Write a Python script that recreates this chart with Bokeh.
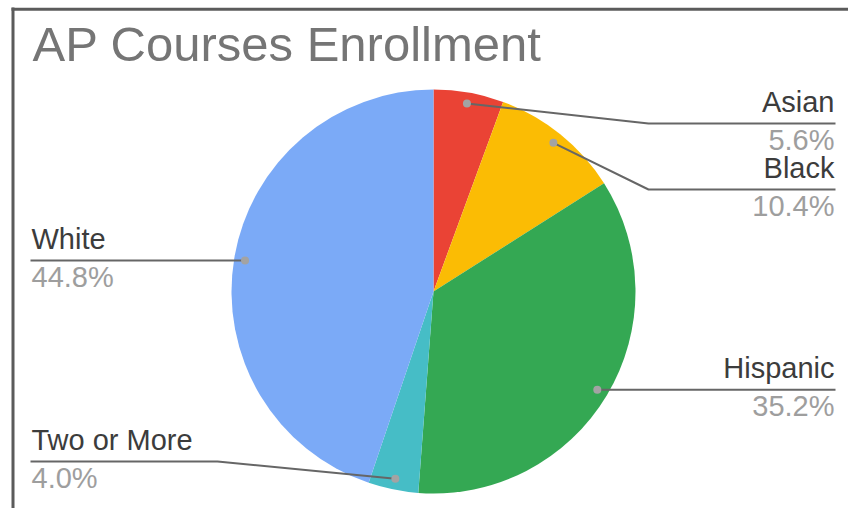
import math
from bokeh.plotting import figure
from bokeh.models import Range1d, ColumnDataSource
from bokeh.core.properties import value
from bokeh.embed import file_html
from bokeh.resources import INLINE

# ---- data ----
title = "AP Courses Enrollment"
categories = ["Asian", "Black", "Hispanic", "Two or More", "White"]
shares = [5.6, 10.4, 35.2, 4.0, 44.8]
pct_labels = ["5.6%", "10.4%", "35.2%", "4.0%", "44.8%"]
colors = ["#EA4335", "#FBBC04", "#34A853", "#46BDC6", "#7BAAF7"]

# ---- layout (page pixel coordinates) ----
PAGE_W, PAGE_H = 848, 508
def Y(yp):
    return PAGE_H - yp

CX, CY = 433, Y(291)
R = 202
R_DOT = 191
label_line_y = {"Asian": 123, "Black": 189, "Two or More": 461}  # page y; others follow dot
RIGHT_END, RIGHT_ELBOW = 835, 648
LEFT_END, LEFT_ELBOW = 30, 217
FONT = "Liberation Sans"
LBL_SIZE, TITLE_SIZE = 29, 49
BASE_FIX = 0.37  # compensate baseline placement, fraction of font size

p = figure(width=PAGE_W, height=PAGE_H, x_range=Range1d(0, PAGE_W), y_range=Range1d(0, PAGE_H),
           output_backend="svg", toolbar_location=None, min_border=0,
           x_axis_type=None, y_axis_type=None)
p.grid.visible = False
p.outline_line_color = None
p.background_fill_color = "white"
p.border_fill_color = "white"

# wedges
total = sum(shares)
starts, ends, mids = [], [], []
cum = 0.0
for s in shares:
    a0 = cum / total * 2 * math.pi
    a1 = (cum + s) / total * 2 * math.pi
    starts.append(math.pi / 2 - a0)
    ends.append(math.pi / 2 - a1)
    mids.append((a0 + a1) / 2)
    cum += s

src = ColumnDataSource(dict(start=starts, end=ends, color=colors, cat=categories))
p.wedge(x=CX, y=CY, radius=R, start_angle="start", end_angle="end", direction="clock",
        fill_color="color", line_color=None, source=src)

# leader lines, dots, labels
name_x, name_y, name_t, name_al = [], [], [], []
pct_x, pct_y, pct_t = [], [], []
dot_x, dot_y = [], []
fix = BASE_FIX * LBL_SIZE
for cat, pct, th in zip(categories, pct_labels, mids):
    dx = CX + R_DOT * math.sin(th)
    dy = CY + R_DOT * math.cos(th)
    dot_x.append(dx)
    dot_y.append(dy)
    right = math.sin(th) > 0
    ly = Y(label_line_y[cat]) if cat in label_line_y else dy
    if right:
        elbow = RIGHT_ELBOW if cat in label_line_y else dx
        xs = [dx, elbow, RIGHT_END]
        tx, al = 834, "right"
    else:
        elbow = LEFT_ELBOW if cat in label_line_y else dx
        xs = [dx, elbow, LEFT_END]
        tx, al = 31, "left"
    p.line(xs, [dy, ly, ly], line_color="#666666", line_width=2)
    name_x.append(tx); name_y.append(ly + 11 + fix); name_t.append(cat); name_al.append(al)
    pct_x.append(tx); pct_y.append(ly - 27 + fix); pct_t.append(pct)

p.scatter(dot_x, dot_y, size=8, fill_color="#a3a3a3", line_color=None)

for i in range(len(categories)):
    p.text(x=[name_x[i]], y=[name_y[i]], text=[name_t[i]], text_align=name_al[i],
           text_baseline="alphabetic", text_font=value(FONT), text_font_size=f"{LBL_SIZE}px",
           text_color="#3c3c3c")
    p.text(x=[pct_x[i]], y=[pct_y[i]], text=[pct_t[i]], text_align=name_al[i],
           text_baseline="alphabetic", text_font=value(FONT), text_font_size=f"{LBL_SIZE}px",
           text_color="#9e9e9e")

# title
p.text(x=[32], y=[Y(62) + BASE_FIX * TITLE_SIZE], text=[title], text_align="left",
       text_baseline="alphabetic", text_font=value(FONT), text_font_size=f"{TITLE_SIZE}px",
       text_color="#757575")

# frame lines (left and top)
p.line([12.5, 12.5], [Y(7), Y(508)], line_color="#5b5b5b", line_width=3)
p.line([11, 848], [Y(8.7), Y(8.7)], line_color="#5b5b5b", line_width=3)

open("out.html", "w").write(file_html(p, INLINE))
